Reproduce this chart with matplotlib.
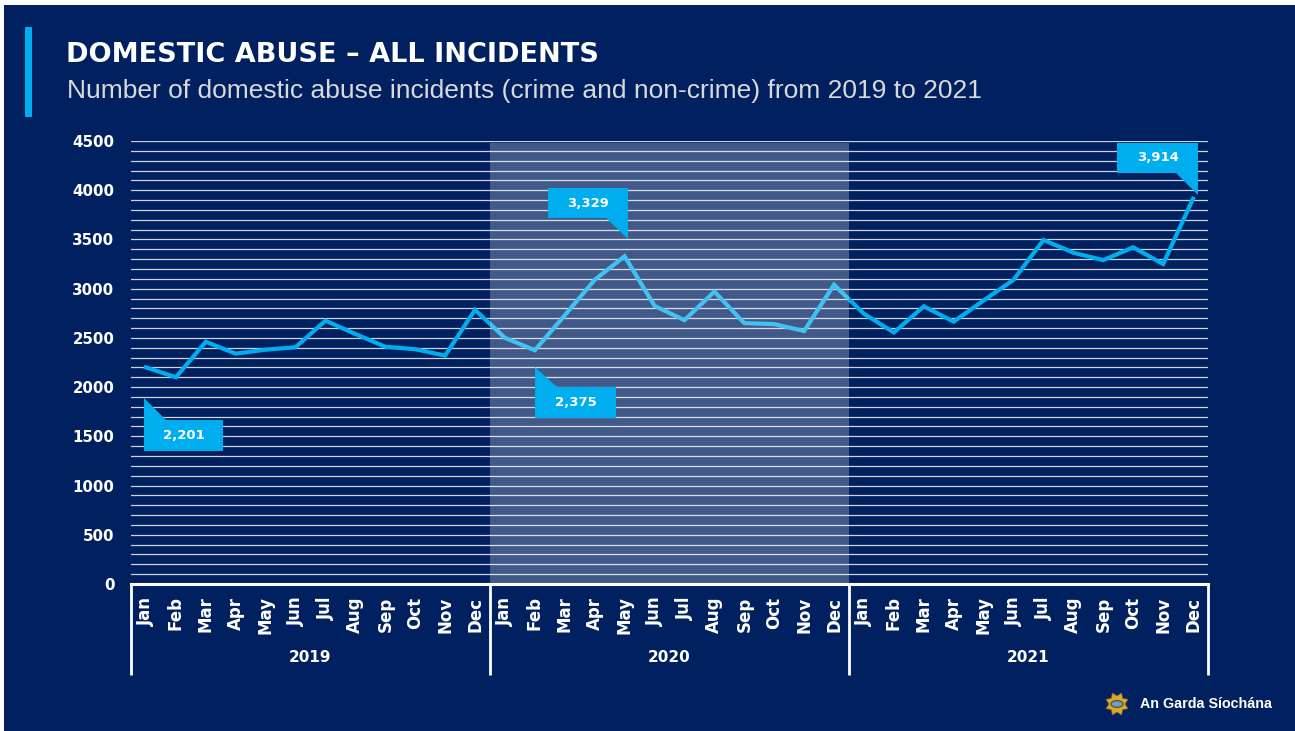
import numpy as np
import matplotlib
matplotlib.use("Agg")
import matplotlib.pyplot as plt
import matplotlib.transforms as mtransforms
from matplotlib.patches import Rectangle, Polygon, Circle

# monthly domestic abuse incidents, Jan 2019 - Dec 2021
YEARS = ["2019", "2020", "2021"]
MONTHS = ["Jan", "Feb", "Mar", "Apr", "May", "Jun",
          "Jul", "Aug", "Sep", "Oct", "Nov", "Dec"]
INCIDENTS_2019 = [2201, 2100, 2460, 2340, 2380, 2405, 2675, 2540, 2410, 2385, 2320, 2785]
INCIDENTS_2020 = [2500, 2375, 2730, 3090, 3329, 2825, 2680, 2970, 2650, 2640, 2570, 3040]
INCIDENTS_2021 = [2745, 2555, 2820, 2665, 2880, 3090, 3495, 3365, 3290, 3420, 3250, 3914]

# which points get a value callout: (year, month index)
HIGHLIGHTS = [("2019", 0), ("2020", 1), ("2020", 4), ("2021", 11)]

NAVY = "#002060"
CYAN = "#00AEEF"
W, H = 1295, 731


def callout(ax, x, y, text, side):
    """Value box with a pointed tail, laid out in pixels around a data point."""
    trans = mtransforms.ScaledTranslation(x, y, ax.transData)
    if side == "below":
        # tail rises from the box's top-left corner to the point
        left, top, bw, bh, th = -2, -53, 79, 31, 22
        if text == "2,375":
            left, top, bw, bh, th = 0, -37, 81, 31, 20
        box = [(left, top), (left + bw, top), (left + bw, top - bh), (left, top - bh)]
        tail = [(left, top + th), (left, top), (left + 22, top)]
    else:
        # tail drops from the box's bottom-right corner towards the point
        right, bottom, bw, bh, th = 3, 38, 80, 30, 21
        if text == "3,914":
            right, bottom, bw, bh, th = 5, 26, 81, 30, 22
        box = [(right - bw, bottom), (right, bottom), (right, bottom + bh), (right - bw, bottom + bh)]
        tail = [(right - 22, bottom), (right, bottom), (right, bottom - th)]
    for verts in (box, tail):
        ax.add_patch(Polygon(verts, closed=True, transform=trans, facecolor=CYAN,
                             edgecolor="none", clip_on=False, zorder=6))
    cx = (box[0][0] + box[1][0]) / 2
    cy = (box[0][1] + box[2][1]) / 2
    ax.text(cx, cy, text, transform=trans, ha="center", va="center", color="white",
            fontsize=9.5, fontweight="bold", family="DejaVu Sans", zorder=7)


def main():
    values = np.array(INCIDENTS_2019 + INCIDENTS_2020 + INCIDENTS_2021)
    xs = np.arange(len(values))
    labels = MONTHS * len(YEARS)

    fig = plt.figure(figsize=(W / 100, H / 100), dpi=100, facecolor="white")
    fig.add_artist(Rectangle((4 / W, 0), 1, (H - 5) / H, transform=fig.transFigure,
                             facecolor=NAVY, edgecolor="none", zorder=-10))

    # header
    fig.add_artist(Rectangle((25 / W, 1 - 117 / H), 7 / W, 90 / H, transform=fig.transFigure,
                             facecolor=CYAN, edgecolor="none"))
    fig.text(66 / W, 1 - 55 / H, "DOMESTIC ABUSE \u2013 ALL INCIDENTS", color="white",
             fontsize=19.5, fontweight="bold", family="DejaVu Sans", va="center")
    fig.text(67 / W, 1 - 91 / H,
             "Number of domestic abuse incidents (crime and non-crime) from 2019 to 2021",
             color="#D9D9D9", fontsize=19, family="Liberation Sans", va="center")

    ax = fig.add_axes([131 / W, 1 - 584 / H, 1077 / W, 443 / H])
    ax.set_facecolor("none")
    ax.set_xlim(-0.5, len(values) - 0.5)
    ax.set_ylim(0, 4500)

    # gridlines every 100, labels every 500
    ax.set_yticks(np.arange(0, 4501, 500))
    ax.set_yticks(np.arange(0, 4501, 100), minor=True)
    ax.grid(axis="y", which="both", color="#CDD2DD", linewidth=0.9, zorder=1)
    ax.set_axisbelow(True)
    ax.tick_params(axis="y", which="both", length=0, pad=12, labelcolor="white", labelsize=10.8)
    for t in ax.get_yticklabels():
        t.set_fontweight("bold")
        t.set_family("DejaVu Sans")

    ax.set_xticks(xs)
    ax.set_xticklabels(labels, rotation=90, fontweight="bold", family="DejaVu Sans")
    ax.tick_params(axis="x", length=0, pad=9, labelcolor="white", labelsize=12)

    for side in ("top", "right", "left"):
        ax.spines[side].set_visible(False)
    ax.spines["bottom"].set_color("white")
    ax.spines["bottom"].set_linewidth(2.2)
    ax.spines["bottom"].set_zorder(5)

    ax.plot(xs, values, color=CYAN, linewidth=3, solid_joinstyle="miter", zorder=3)

    # 2020 highlighted with a pale overlay
    ax.axvspan(11.5, 23.5, ymax=0.996, facecolor="white", alpha=0.26, edgecolor="none", zorder=4)

    # year brackets below the month labels
    sep = mtransforms.blended_transform_factory(ax.transData, ax.transAxes)
    n = len(MONTHS)
    for i in range(len(YEARS) + 1):
        ax.plot([i * n - 0.5] * 2, [0, -0.205], transform=sep, color="white",
                linewidth=2, clip_on=False, solid_capstyle="butt", zorder=5)
    for i, year in enumerate(YEARS):
        ax.text(i * n + (n - 1) / 2, -0.165, year, transform=sep, ha="center", va="center",
                color="white", fontsize=11, fontweight="bold", family="DejaVu Sans")

    for year, m in HIGHLIGHTS:
        idx = YEARS.index(year) * n + m
        side = "above" if year == "2021" or m == 4 else "below"
        callout(ax, xs[idx], values[idx], f"{values[idx]:,}", side)

    # footer badge
    cx, cy = 1117 / W, 1 - 704 / H
    ang = np.linspace(0, 2 * np.pi, 17)[:-1] + np.pi / 8
    rad = np.where(np.arange(16) % 2 == 0, 12, 8)
    star = np.column_stack([1117 + rad * np.cos(ang), H - 704 + rad * np.sin(ang)])
    fig.add_artist(Polygon(star / [W, H], closed=True, transform=fig.transFigure,
                           facecolor="#D9A82B", edgecolor="#8A6A1A", linewidth=0.5))
    fig.add_artist(Circle((cx, cy), 6 / W, transform=fig.transFigure,
                          facecolor="#6F9CC4", edgecolor="#4A4A2A", linewidth=0.8))
    fig.text(1140 / W, cy, "An Garda Síochána", color="white", fontsize=10.3,
             fontweight="bold", family="Liberation Sans", va="center")

    fig.savefig("out.png", dpi=100, facecolor=fig.get_facecolor())


if __name__ == "__main__":
    main()
